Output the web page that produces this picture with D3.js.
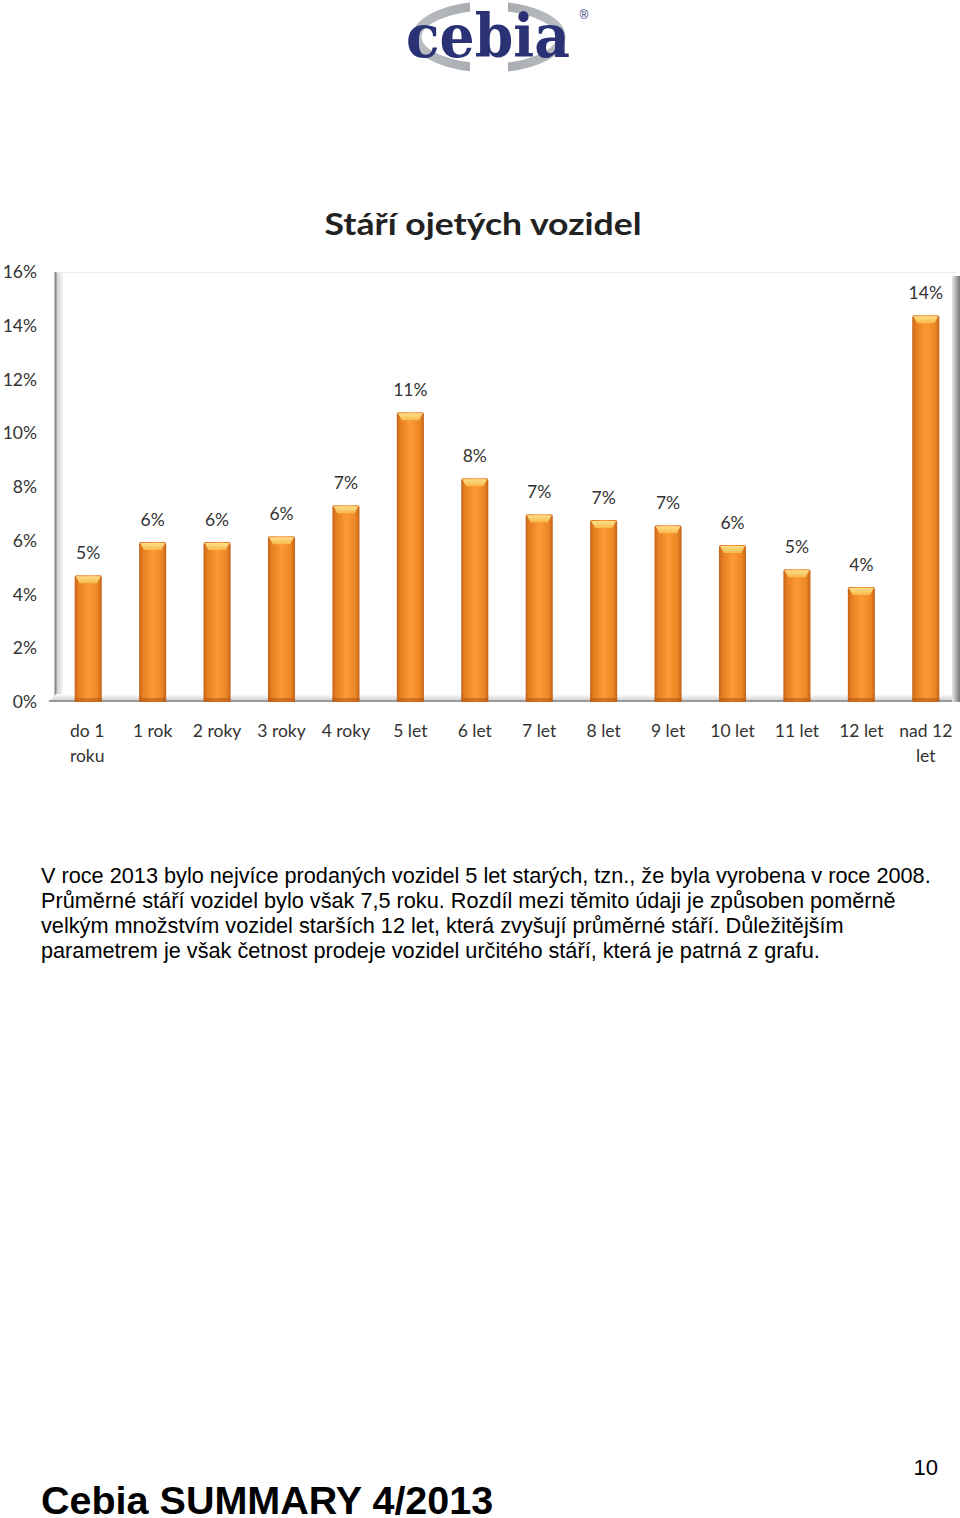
<!DOCTYPE html>
<html>
<head>
<meta charset="utf-8">
<script src="https://cdn.jsdelivr.net/npm/d3@7"></script>
<style>
  html, body { margin: 0; padding: 0; background: #fff; }
  svg { display: block; }
</style>
</head>
<body>
<svg id="page" width="960" height="1518"></svg>
<script>
// ---- data ----
const categories = [["do 1","roku"],["1 rok"],["2 roky"],["3 roky"],["4 roky"],["5 let"],["6 let"],["7 let"],["8 let"],["9 let"],["10 let"],["11 let"],["12 let"],["nad 12","let"]];
const values = [4.72, 5.95, 5.95, 6.17, 7.32, 10.78, 8.33, 6.99, 6.77, 6.58, 5.84, 4.94, 4.28, 14.39];
const yTicks = [0, 2, 4, 6, 8, 10, 12, 14, 16];
const chartTitle = "Stáří ojetých vozidel";
const paragraph = [
  "V roce 2013 bylo nejvíce prodaných vozidel 5 let starých, tzn., že byla vyrobena v roce 2008.",
  "Průměrné stáří vozidel bylo však 7,5 roku. Rozdíl mezi těmito údaji je způsoben poměrně",
  "velkým množstvím vozidel starších 12 let, která zvyšují průměrné stáří. Důležitějším",
  "parametrem je však četnost prodeje vozidel určitého stáří, která je patrná z grafu."
];
const footer = "Cebia SUMMARY 4/2013";
const pageNumber = "10";

const svg = d3.select("#page");
const defs = svg.append("defs");

// ---- logo ----
const logo = svg.append("g");
const lg = defs.append("linearGradient").attr("id","swoosh").attr("x1","0").attr("x2","1");
lg.append("stop").attr("offset","0").attr("stop-color","#b9bcc0");
lg.append("stop").attr("offset","0.5").attr("stop-color","#a4a8ad");
lg.append("stop").attr("offset","1").attr("stop-color","#b9bcc0");
logo.append("ellipse").attr("cx",489).attr("cy",37).attr("rx",72).attr("ry",31)
  .attr("fill","none").attr("stroke","url(#swoosh)").attr("stroke-width",9);
logo.append("rect").attr("x",470).attr("y",0).attr("width",38).attr("height",75).attr("fill","#fff");
const logoText = logo.append("text").attr("x",0).attr("y",0).attr("text-anchor","middle")
  .attr("font-family","'DejaVu Serif', serif").attr("font-weight","bold")
  .attr("font-size",60).attr("fill","#2a3275")
  .text("cebia");
const natW = logoText.node().getComputedTextLength() || 164;
logoText.attr("transform",`translate(488,57) scale(${164/natW},1)`);
logo.append("text").attr("x",584).attr("y",19).attr("text-anchor","middle")
  .attr("font-family","'Liberation Sans', Arial, sans-serif").attr("font-size",12)
  .attr("fill","#2a3275").text("®");

// ---- chart ----
const y = d3.scaleLinear().domain([0,16]).range([702,272]);
const x = d3.scaleBand().domain(d3.range(categories.length)).range([56,958])
  .paddingInner(0.58).paddingOuter(0.29);

svg.append("text").attr("x",483).attr("y",235).attr("text-anchor","middle")
  .attr("font-family","Lato, 'Open Sans', sans-serif").attr("font-weight","bold")
  .attr("font-size",31).attr("fill","#222").attr("textLength",317).attr("lengthAdjust","spacingAndGlyphs")
  .text(chartTitle);

// walls
const wallG = defs.append("linearGradient").attr("id","wallShade").attr("x1","0").attr("x2","1");
wallG.append("stop").attr("offset","0").attr("stop-color","#c8c8c8");
wallG.append("stop").attr("offset","1").attr("stop-color","#ffffff");
svg.append("rect").attr("x",56).attr("y",272).attr("width",8).attr("height",y(0)-272).attr("fill","url(#wallShade)");
svg.append("line").attr("x1",56).attr("x2",957).attr("y1",272.5).attr("y2",272.5).attr("stroke","#ececec");
svg.append("line").attr("x1",55.5).attr("x2",55.5).attr("y1",272).attr("y2",y(0)).attr("stroke","#8a8a8a").attr("stroke-width",2);
const floorG = defs.append("linearGradient").attr("id","floorShade").attr("x1","0").attr("x2","0").attr("y1","0").attr("y2","1");
floorG.append("stop").attr("offset","0").attr("stop-color","#ffffff");
floorG.append("stop").attr("offset","1").attr("stop-color","#d0d0d0");
svg.append("polygon").attr("points",`56,694 958,694 958,701 50,701`).attr("fill","url(#floorShade)");
svg.append("line").attr("x1",49).attr("x2",958).attr("y1",701).attr("y2",701).attr("stroke","#9a9a9a").attr("stroke-width",2);
const rwG = defs.append("linearGradient").attr("id","rwShade").attr("x1","0").attr("x2","1");
rwG.append("stop").attr("offset","0").attr("stop-color","#e8e8e8");
rwG.append("stop").attr("offset","1").attr("stop-color","#777");
svg.append("rect").attr("x",952).attr("y",276).attr("width",8).attr("height",426).attr("fill","url(#rwShade)");

// y axis
const yAxis = svg.append("g").attr("transform","translate(37,0)")
  .call(d3.axisLeft(y).tickValues(yTicks).tickSize(0).tickPadding(0).tickFormat(d => d + "%"));
yAxis.select(".domain").remove();
yAxis.selectAll("text").attr("font-family","Lato, 'Open Sans', sans-serif").attr("font-size",17.5).attr("fill","#333");

// bars
const barG = defs.append("linearGradient").attr("id","barFill").attr("x1","0").attr("x2","1");
[["0","#c4621a"],["0.12","#e47d20"],["0.5","#fb9b35"],["0.85","#ec8624"],["1","#c4621a"]]
  .forEach(s => barG.append("stop").attr("offset",s[0]).attr("stop-color",s[1]));
const capG = defs.append("linearGradient").attr("id","capFill").attr("x1","0").attr("x2","0").attr("y1","0").attr("y2","1");
capG.append("stop").attr("offset","0").attr("stop-color","#fde08a");
capG.append("stop").attr("offset","1").attr("stop-color","#f9b84a");

const bars = svg.append("g").selectAll("g").data(values).join("g");
bars.append("rect")
  .attr("x",(d,i)=>x(i)).attr("width",x.bandwidth())
  .attr("y",d=>y(d)).attr("height",d=>y(0)-y(d)).attr("rx",2)
  .attr("fill","url(#barFill)");
bars.append("path")
  .attr("d",(d,i)=>{const x0=x(i), w=x.bandwidth(), t=y(d);
    return `M${x0+1},${t+1} L${x0+w-1},${t+1} L${x0+w-5},${t+8} L${x0+5},${t+8} Z`;})
  .attr("fill","url(#capFill)");
bars.append("rect")
  .attr("x",(d,i)=>x(i)).attr("width",x.bandwidth())
  .attr("y",y(0)-4).attr("height",4).attr("fill","#b85a18").attr("opacity",0.6);

// value labels
svg.append("g").selectAll("text").data(values).join("text")
  .attr("x",(d,i)=>x(i)+x.bandwidth()/2).attr("y",d=>y(d)-16)
  .attr("text-anchor","middle")
  .attr("font-family","Lato, 'Open Sans', sans-serif").attr("font-size",17.5).attr("fill","#333")
  .text(d => Math.round(d) + "%");

// category labels
const catG = svg.append("g").selectAll("text").data(categories).join("text")
  .attr("text-anchor","middle")
  .attr("font-family","Lato, 'Open Sans', sans-serif").attr("font-size",17.5).attr("fill","#333");
catG.each(function(lines,i){
  const t = d3.select(this);
  lines.forEach((ln,k)=>{
    t.append("tspan").attr("x",x(i)+x.bandwidth()/2 - (lines.length>1 && i===0 ? 1 : 0)).attr("y",737+k*25).text(ln);
  });
});

// paragraph
svg.append("g").selectAll("text").data(paragraph).join("text")
  .attr("x",41).attr("y",(d,i)=>883+i*25)
  .attr("font-family","'Liberation Sans', Arial, sans-serif").attr("font-size",21.7).attr("fill","#000")
  .text(d=>d);

// footer
svg.append("text").attr("x",41).attr("y",1514)
  .attr("font-family","'Liberation Sans', Arial, sans-serif").attr("font-weight","bold")
  .attr("font-size",39.5).attr("fill","#000").text(footer);
svg.append("text").attr("x",938).attr("y",1475).attr("text-anchor","end")
  .attr("font-family","'Liberation Sans', Arial, sans-serif")
  .attr("font-size",22).attr("fill","#000").text(pageNumber);
</script>
</body>
</html>
